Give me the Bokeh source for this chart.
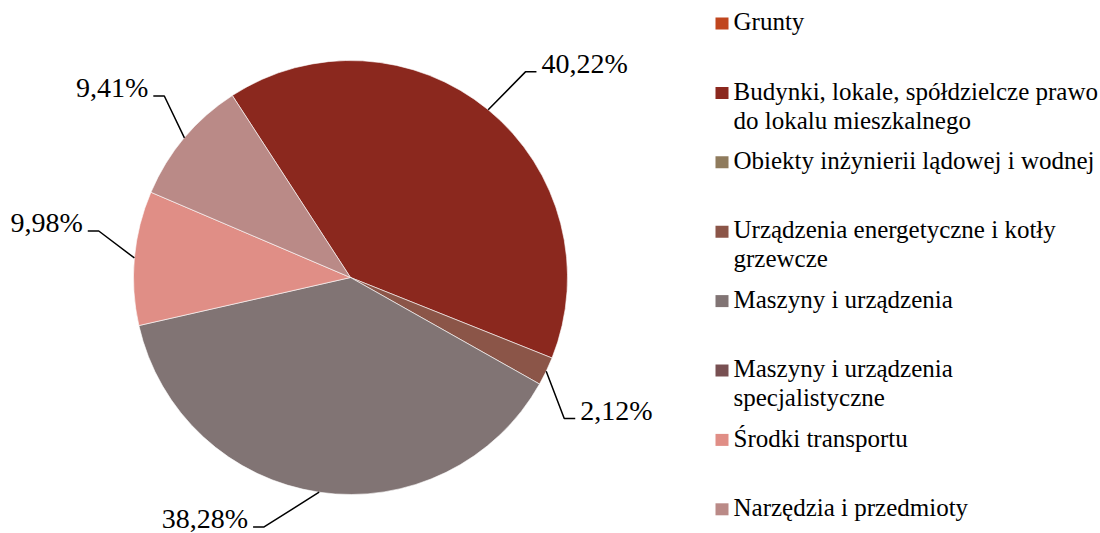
import math
import textwrap
from bokeh.plotting import figure
from bokeh.models import Range1d, ColumnDataSource
from bokeh.embed import file_html
from bokeh.resources import INLINE
from bokeh.core.properties import value

# ---------------- data ----------------
categories = [
    "Grunty",
    "Budynki, lokale, spółdzielcze prawo do lokalu mieszkalnego",
    "Obiekty inżynierii lądowej i wodnej",
    "Urządzenia energetyczne i kotły grzewcze",
    "Maszyny i urządzenia",
    "Maszyny i urządzenia specjalistyczne",
    "Środki transportu",
    "Narzędzia i przedmioty",
]
shares = [0.0, 40.22, 0.0, 2.12, 38.28, 0.0, 9.98, 9.41]
colors = ["#C0461E", "#8B281E", "#8F7B5D", "#8B5548", "#817474",
          "#785052", "#E08E86", "#BA8A87"]

# ---------------- layout ----------------
W, H = 1100, 533
CX, CY, R = 350, 277, 217          # page pixels
FIRST_ANGLE = 327                  # clockwise from 12 o'clock
FONT = "Liberation Serif"
LEG_SIZE = 25
LAB_SIZE = 28
SHIFT = 0.37                       # baseline correction (em)
# label elbow: (angle shift in degrees, radius in px) per category
elbow = [(0, 0), (1.0, 270), (0, 0), (7.8, 256), (10.8, 264), (0, 0), (5.3, 256), (4.2, 260)]
TAIL = 11
GAP = 5


def X(px):
    return px


def Y(py):
    return H - py


p = figure(width=W, height=H, x_range=Range1d(0, W), y_range=Range1d(0, H),
           output_backend="svg", toolbar_location=None, min_border=0)
p.axis.visible = False
p.grid.visible = False
p.outline_line_color = None
p.background_fill_color = "white"
p.border_fill_color = "white"

total = sum(shares)
cum = FIRST_ANGLE
ws = dict(start=[], end=[], color=[])
lines_x, lines_y = [], []
lab_r = dict(x=[], y=[], t=[])
lab_l = dict(x=[], y=[], t=[])
for i, v in enumerate(shares):
    span = 360.0 * v / total
    s, e = cum, cum + span
    cum = e
    if v <= 0:
        continue
    ws["start"].append(math.radians(90 - e))
    ws["end"].append(math.radians(90 - s))
    ws["color"].append(colors[i])
    mid = math.radians((s + e) / 2)
    ex, ey = CX + R * math.sin(mid), CY - R * math.cos(mid)
    da, rr = elbow[i]
    a2 = math.radians((s + e) / 2 + da)
    bx, by = CX + rr * math.sin(a2), CY - rr * math.cos(a2)
    right = math.sin(a2) > 0
    tx = bx + TAIL if right else bx - TAIL
    lines_x.append([X(ex), X(bx), X(tx)])
    lines_y.append([Y(ey), Y(by), Y(by)])
    txt = f"{v:.2f}".replace(".", ",") + "%"
    ty = Y(by + 2 - SHIFT * LAB_SIZE)
    if right:
        lab_r["x"].append(X(tx + GAP)); lab_r["y"].append(ty); lab_r["t"].append(txt)
    else:
        lab_l["x"].append(X(tx - GAP)); lab_l["y"].append(ty); lab_l["t"].append(txt)

p.wedge(x=X(CX), y=Y(CY), radius=R, start_angle="start", end_angle="end",
        fill_color="color", line_color="white", line_width=0.6,
        source=ColumnDataSource(ws))
p.multi_line(xs=lines_x, ys=lines_y, line_color="black", line_width=1.5)
p.text(x="x", y="y", text="t", source=ColumnDataSource(lab_r), text_font=value(FONT),
       text_font_size=f"{LAB_SIZE}px", text_align="left", text_baseline="alphabetic",
       text_color="black")
p.text(x="x", y="y", text="t", source=ColumnDataSource(lab_l), text_font=value(FONT),
       text_font_size=f"{LAB_SIZE}px", text_align="right", text_baseline="alphabetic",
       text_color="black")

# legend
LEG_TOP, LEG_STEP, LINE_STEP = 23, 69.4, 29
SQ_X, SQ = 721.5, 12
TXT_X = 733
sq = dict(x=[], y=[], c=[])
lt = dict(x=[], y=[], t=[])
for i, cat in enumerate(categories):
    yc = LEG_TOP + i * LEG_STEP
    sq["x"].append(X(SQ_X)); sq["y"].append(Y(yc)); sq["c"].append(colors[i])
    for k, ln in enumerate(textwrap.wrap(cat, 35)):
        lt["x"].append(X(TXT_X))
        lt["y"].append(Y(yc + 7.5 + k * LINE_STEP - SHIFT * LEG_SIZE))
        lt["t"].append(ln)
p.rect(x="x", y="y", width=SQ + 1, height=SQ, fill_color="c", line_color=None,
       source=ColumnDataSource(sq))
p.text(x="x", y="y", text="t", source=ColumnDataSource(lt), text_font=value(FONT),
       text_font_size=f"{LEG_SIZE}px", text_align="left", text_baseline="alphabetic",
       text_color="black")

open("out.html", "w").write(file_html(p, INLINE))
